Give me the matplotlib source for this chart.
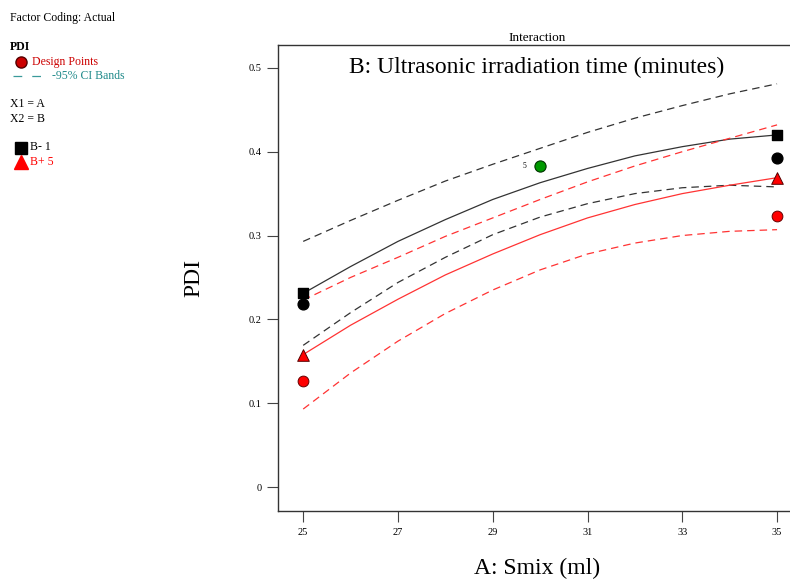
import matplotlib
matplotlib.use("Agg")
import matplotlib.pyplot as plt

plt.rcParams['font.family'] = ['Liberation Serif', 'DejaVu Serif']

# ---- data ----
smix = [25, 26, 27, 28, 29, 30, 31, 32, 33, 34, 35]
b_low_mean  = [0.231, 0.263, 0.293, 0.319, 0.343, 0.363, 0.380, 0.395, 0.406, 0.415, 0.420]
b_low_upper = [0.293, 0.318, 0.342, 0.365, 0.385, 0.404, 0.423, 0.440, 0.455, 0.469, 0.481]
b_low_lower = [0.169, 0.208, 0.244, 0.274, 0.301, 0.322, 0.338, 0.350, 0.357, 0.360, 0.358]
b_high_mean  = [0.158, 0.193, 0.224, 0.253, 0.278, 0.301, 0.321, 0.337, 0.350, 0.360, 0.369]
b_high_upper = [0.223, 0.250, 0.274, 0.299, 0.321, 0.343, 0.364, 0.383, 0.400, 0.416, 0.432]
b_high_lower = [0.093, 0.136, 0.174, 0.207, 0.235, 0.259, 0.278, 0.291, 0.300, 0.305, 0.307]

ends = [25, 35]
b_low_ends = [0.231, 0.420]
b_high_ends = [0.158, 0.369]
dp_black_x = [25, 35]
dp_black_y = [0.218, 0.393]
dp_red_x = [25, 35]
dp_red_y = [0.126, 0.323]
center_x = [30]
center_y = [0.383]
center_label = "5"

xticks = [25, 27, 29, 31, 33, 35]
yticks = [0, 0.1, 0.2, 0.3, 0.4, 0.5]
yticklabels = ["0", "0.1", "0.2", "0.3", "0.4", "0.5"]

# ---- figure ----
fig = plt.figure(figsize=(7.9, 5.8), dpi=100)
ax = fig.add_axes([0.352, 0.119, 0.655, 0.803])

black = '#333333'
red = '#ff3333'
dash = (0, (6, 4))

ax.plot(smix, b_low_upper, color=black, lw=0.9, linestyle=dash)
ax.plot(smix, b_low_lower, color=black, lw=0.9, linestyle=dash)
ax.plot(smix, b_low_mean, color=black, lw=0.9)
ax.plot(smix, b_high_upper, color=red, lw=0.9, linestyle=dash)
ax.plot(smix, b_high_lower, color=red, lw=0.9, linestyle=dash)
ax.plot(smix, b_high_mean, color=red, lw=0.9)

ax.scatter(dp_black_x, dp_black_y, s=60, marker='o', color='black', zorder=5)
ax.scatter(dp_red_x, dp_red_y, s=60, marker='o', facecolor='#ff0000', edgecolor='#660000', linewidths=0.7, zorder=5)
ax.scatter(ends, b_low_ends, s=58, marker='s', color='black', zorder=6)
ax.scatter(ends, b_high_ends, s=70, marker='^', facecolor='#ff0000', edgecolor='#550000', linewidths=0.7, zorder=6)
ax.scatter(center_x, center_y, s=65, marker='o', facecolor='#009900', edgecolor='#003300', linewidths=0.8, zorder=6)
ax.annotate(center_label, (center_x[0], center_y[0]), xytext=(-10, 0), textcoords='offset points',
            fontsize=5.5, va='center', ha='right')

ax.set_xlim(24.47, 35.39)
ax.set_ylim(-0.0286, 0.527)
ax.set_xticks(xticks)
ax.set_xticklabels([str(t) for t in xticks], fontsize=7.5)
ax.set_yticks(yticks)
ax.set_yticklabels(yticklabels, fontsize=7.5)
ax.tick_params(axis='both', direction='out', length=8, width=0.8, color='#444444', pad=4)
ax.spines['right'].set_visible(False)
for s in ['left', 'bottom', 'top']:
    ax.spines[s].set_linewidth(1.0)
    ax.spines[s].set_color('#333333')

ax.set_title('Interaction', fontsize=9.5, pad=3)
ax.text(0.5, 0.975, 'B: Ultrasonic irradiation time (minutes)', transform=ax.transAxes,
        ha='center', va='top', fontsize=17)
ax.set_ylabel('PDI', fontsize=17, labelpad=32)
ax.set_xlabel('A: Smix (ml)', fontsize=17, labelpad=15)

# ---- left annotation block ----
def fx(px):
    return px / 790
def fy(py):
    return 1 - py / 580

fs = 8.5
fig.text(fx(10), fy(18), 'Factor Coding: Actual', fontsize=fs, va='center', ha='left')
fig.text(fx(10), fy(47), 'PDI', fontsize=fs, fontweight='bold', va='center', ha='left')
fig.lines.append(matplotlib.lines.Line2D([fx(21)], [fy(62)], marker='o', markersize=8,
                 markerfacecolor='#cc0000', markeredgecolor='#550000', transform=fig.transFigure))
fig.text(fx(32), fy(62), 'Design Points', fontsize=fs, color='#cc0000', va='center', ha='left')
fig.lines.append(matplotlib.lines.Line2D([fx(13), fx(44)], [fy(76), fy(76)], color='#3a9a9a',
                 lw=0.9, linestyle=(0, (7, 8)), transform=fig.transFigure))
fig.text(fx(52), fy(76), '-95% CI Bands', fontsize=fs, color='#208a8a', va='center', ha='left')
fig.text(fx(10), fy(104), 'X1 = A', fontsize=fs, va='center', ha='left')
fig.text(fx(10), fy(119), 'X2 = B', fontsize=fs, va='center', ha='left')
fig.lines.append(matplotlib.lines.Line2D([fx(21)], [fy(148)], marker='s', markersize=9,
                 color='black', transform=fig.transFigure))
fig.text(fx(30), fy(147), 'B- 1', fontsize=fs, va='center', ha='left')
fig.lines.append(matplotlib.lines.Line2D([fx(21)], [fy(162)], marker='^', markersize=10,
                 color='#ff0000', transform=fig.transFigure))
fig.text(fx(30), fy(162), 'B+ 5', fontsize=fs, color='#ff0000', va='center', ha='left')

fig.savefig('out.png', dpi=100)
